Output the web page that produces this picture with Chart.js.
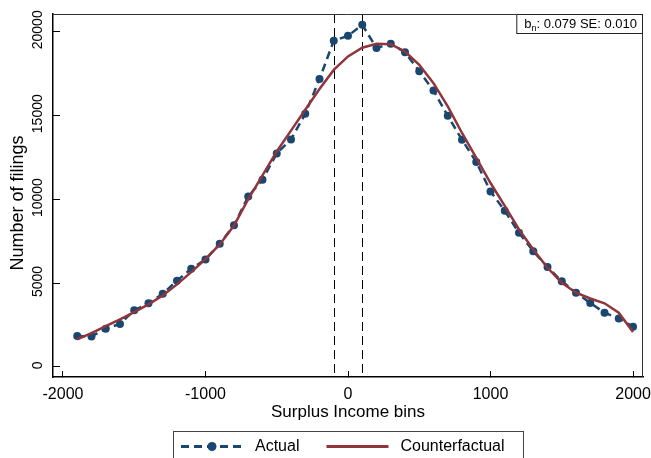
<!DOCTYPE html>
<html>
<head>
<meta charset="utf-8">
<script src="https://cdn.jsdelivr.net/npm/chart.js@4.4.1/dist/chart.umd.min.js"></script>
<style>
  html, body { margin: 0; padding: 0; background: #fff; }
  #wrap { width: 651px; height: 458px; }
</style>
</head>
<body>
<div id="wrap"><canvas id="chart" width="651" height="458"></canvas></div>
<script>
// Bin centres and filing counts
const bins = [
  -1900, -1800, -1700, -1600, -1500, -1400, -1300, -1200, -1100, -1000,
  -900, -800, -700, -600, -500, -400, -300, -200, -100, 0,
  100, 200, 300, 400, 500, 600, 700, 800, 900, 1000,
  1100, 1200, 1300, 1400, 1500, 1600, 1700, 1800, 1900, 2000
];
const actual = [
  1840, 1820, 2280, 2560, 3370, 3800, 4360, 5140, 5850, 6400,
  7340, 8440, 10160, 11160, 12720, 13550, 15080, 17150, 19440, 19730,
  20390, 19010, 19250, 18750, 17620, 16470, 14960, 13540, 12210, 10460,
  9300, 7990, 6900, 5950, 5110, 4420, 3810, 3230, 2890, 2400
];
const counterfactual = [
  1650, 2010, 2430, 2840, 3270, 3730, 4260, 4920, 5650, 6420,
  7300, 8420, 10000, 11420, 12840, 14080, 15320, 16560, 17700, 18500,
  19020, 19250, 19230, 18790, 18000, 16910, 15520, 13940, 12450, 10960,
  9600, 8190, 7000, 5910, 5020, 4420, 4080, 3790, 3230, 2080
];
const xTicks = [-2000, -1000, 0, 1000, 2000];
const yTicks = [0, 5000, 10000, 15000, 20000];
const windowEdges = [-100, 100];
const statLabel = { sym: 'b', sub: 'n', rest: ': 0.079 SE: 0.010' };
const yTitle = 'Number of filings';

const FONT = '"Liberation Sans", Arial, Helvetica, sans-serif';
const NAVY = '#1a476f';
const MAROON = '#90353b';

Chart.defaults.font.family = FONT;
Chart.defaults.color = '#000';

// excluded window, frame, rotated y labels, stat box and legend
const decorations = {
  id: 'decorations',
  beforeDatasetsDraw(chart) {
    const { ctx, chartArea: a, scales: { x } } = chart;
    ctx.save();
    ctx.strokeStyle = '#000';
    ctx.lineWidth = 1;
    ctx.setLineDash([9, 5]);
    windowEdges.forEach(v => {
      const px = Math.round(x.getPixelForValue(v)) + 0.5;
      ctx.beginPath();
      ctx.moveTo(px, a.top);
      ctx.lineTo(px, a.bottom);
      ctx.stroke();
    });
    ctx.restore();
  },
  afterDraw(chart) {
    const { ctx, chartArea: a, scales: { y } } = chart;
    ctx.save();

    // top and right edges of the plot region
    ctx.strokeStyle = '#333';
    ctx.lineWidth = 1;
    ctx.beginPath();
    ctx.moveTo(a.left, a.top + 0.5);
    ctx.lineTo(a.right - 0.5, a.top + 0.5);
    ctx.lineTo(a.right - 0.5, a.bottom);
    ctx.stroke();

    // vertical tick labels and title on the y axis
    ctx.fillStyle = '#000';
    ctx.font = '14px ' + FONT;
    ctx.textAlign = 'center';
    ctx.textBaseline = 'middle';
    y.ticks.forEach(t => {
      const py = y.getPixelForValue(t.value);
      ctx.save();
      ctx.translate(38, py);
      ctx.rotate(-Math.PI / 2);
      ctx.fillText(String(t.value), 1.5, 0);
      ctx.restore();
    });
    ctx.save();
    ctx.font = '18px ' + FONT;
    ctx.translate(18.5, (a.top + a.bottom) / 2 + 7.5);
    ctx.rotate(-Math.PI / 2);
    ctx.fillText(yTitle, 0, 0);
    ctx.restore();

    // estimate box in the top right corner
    ctx.font = '13px ' + FONT;
    const wB = ctx.measureText(statLabel.sym).width;
    const wRest = ctx.measureText(statLabel.rest).width;
    ctx.font = '9px ' + FONT;
    const wSub = ctx.measureText(statLabel.sub).width;
    const boxW = wB + wSub + wRest + 14;
    const bx = a.right - boxW, by = a.top, bh = 19;
    ctx.fillStyle = '#fff';
    ctx.fillRect(bx, by, boxW, bh);
    ctx.strokeStyle = '#222';
    ctx.strokeRect(bx + 0.5, by + 0.5, boxW - 1, bh);
    ctx.fillStyle = '#000';
    ctx.textAlign = 'left';
    ctx.textBaseline = 'alphabetic';
    let tx = bx + 8;
    const base = by + 14;
    ctx.font = '13px ' + FONT;
    ctx.fillText(statLabel.sym, tx, base);
    tx += wB;
    ctx.font = '9px ' + FONT;
    ctx.fillText(statLabel.sub, tx, base + 3);
    tx += wSub;
    ctx.font = '13px ' + FONT;
    ctx.fillText(statLabel.rest, tx, base);

    // legend below the axis title
    const lw = 350, lx = (a.left + a.right) / 2 - lw / 2, ly = 431;
    ctx.strokeStyle = '#444';
    ctx.lineWidth = 1;
    ctx.strokeRect(lx + 0.5, ly + 0.5, lw, 40);
    ctx.font = '16px ' + FONT;
    ctx.textBaseline = 'middle';
    let ix = lx + 8;
    const iy = 446.5;
    chart.data.datasets.forEach(ds => {
      ctx.strokeStyle = ds.borderColor;
      ctx.lineWidth = 3;
      ctx.setLineDash(ds.borderDash || []);
      ctx.beginPath();
      ctx.moveTo(ix, iy);
      ctx.lineTo(ix + 62, iy);
      ctx.stroke();
      ctx.setLineDash([]);
      if (ds.pointRadius) {
        ctx.fillStyle = ds.borderColor;
        ctx.beginPath();
        ctx.arc(ix + 31, iy, 4.5, 0, Math.PI * 2);
        ctx.fill();
      }
      ctx.fillStyle = '#000';
      ctx.fillText(ds.label, ix + 74, iy);
      ix += 74 + ctx.measureText(ds.label).width + 27;
    });
    ctx.restore();
  }
};

new Chart(document.getElementById('chart'), {
  type: 'line',
  data: {
    datasets: [
      {
        label: 'Actual',
        data: bins.map((b, i) => ({ x: b, y: actual[i] })),
        borderColor: NAVY,
        backgroundColor: NAVY,
        borderWidth: 2.5,
        borderDash: [8, 5],
        pointRadius: 4,
        pointBorderWidth: 0,
        pointBackgroundColor: NAVY,
        tension: 0,
        order: 1
      },
      {
        label: 'Counterfactual',
        data: bins.map((b, i) => ({ x: b, y: counterfactual[i] })),
        borderColor: MAROON,
        backgroundColor: MAROON,
        borderWidth: 2.5,
        pointRadius: 0,
        tension: 0,
        order: 0
      }
    ]
  },
  options: {
    responsive: false,
    animation: false,
    devicePixelRatio: 1,
    layout: { padding: { top: 14, right: 8, bottom: 30, left: 0 } },
    plugins: {
      legend: { display: false },
      tooltip: { enabled: false }
    },
    scales: {
      x: {
        type: 'linear',
        min: -2070,
        max: 2070,
        afterBuildTicks: axis => { axis.ticks = xTicks.map(v => ({ value: v })); },
        afterFit: axis => {
          axis.height = 51;
          axis.paddingLeft = 0;
          axis.paddingRight = 0;
        },
        grid: { display: true, drawOnChartArea: false, drawTicks: true, tickLength: -6, color: '#000', lineWidth: 1 },
        border: { display: true, color: '#000', width: 1.5 },
        ticks: { font: { size: 16 }, padding: 14, maxRotation: 0, color: '#000', callback: v => String(v) },
        title: { display: true, text: 'Surplus Income bins', font: { size: 17 }, padding: { top: 0, bottom: 5 }, color: '#000' }
      },
      y: {
        type: 'linear',
        min: -600,
        max: 21030,
        afterBuildTicks: axis => { axis.ticks = yTicks.map(v => ({ value: v })); },
        afterFit: axis => {
          axis.width = 53;
          axis.paddingTop = 0;
          axis.paddingBottom = 0;
        },
        grid: { display: true, drawOnChartArea: false, drawTicks: true, tickLength: -7, color: '#000', lineWidth: 1 },
        border: { display: true, color: '#000', width: 1.5 },
        ticks: { display: false },
        title: { display: false }
      }
    }
  },
  plugins: [decorations]
});
</script>
</body>
</html>
